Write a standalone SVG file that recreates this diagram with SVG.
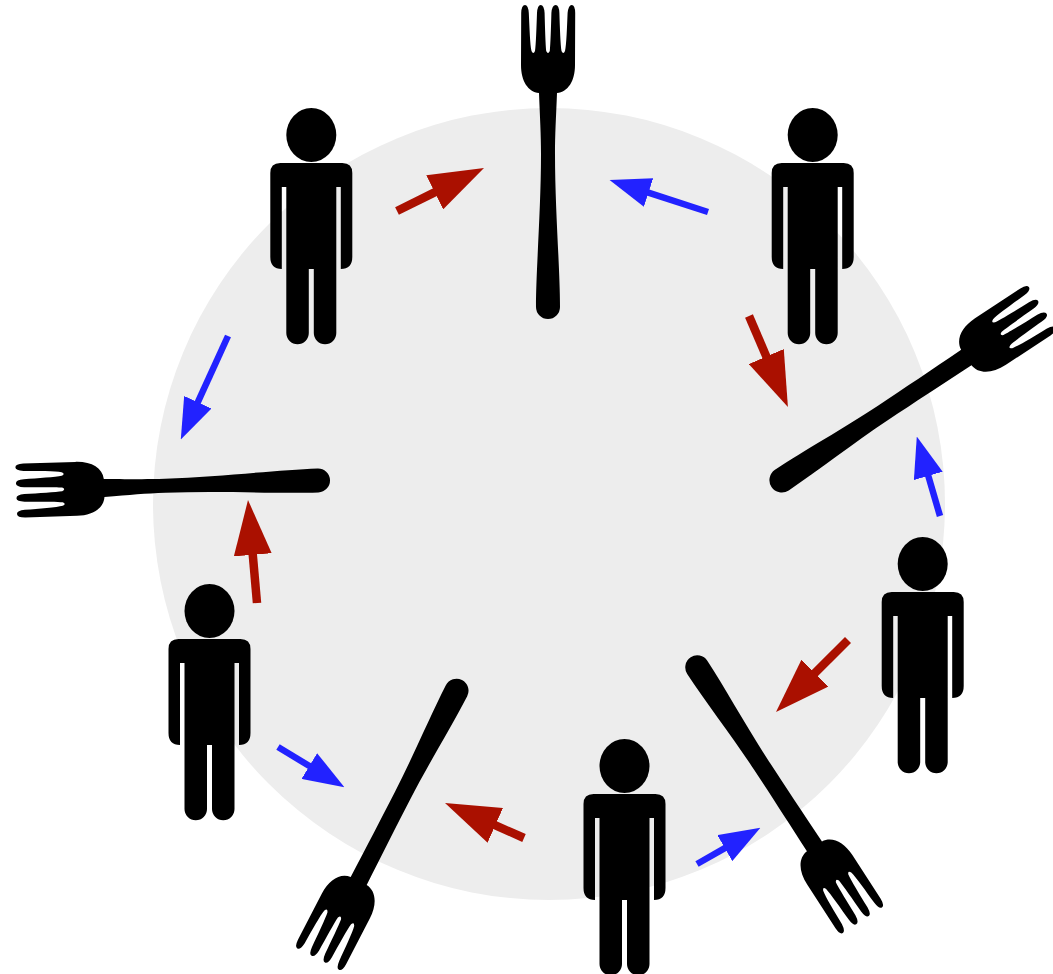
<svg xmlns="http://www.w3.org/2000/svg" width="1053" height="974" viewBox="0 0 1053 974">
<style>
.plate{fill:#ededed}
.red{stroke:#aa1000;stroke-width:8.5;fill:none}
.blue{stroke:#2222ff;stroke-width:6.5;fill:none}
.ink{fill:#000}
</style>
<defs>
<marker id="headRed" markerUnits="userSpaceOnUse" markerWidth="55" markerHeight="38" refX="1" refY="19" orient="auto" viewBox="0 0 55 38"><path d="M0,0L55,19L0,38Z" fill="#aa1000"/></marker>
<marker id="headBlue" markerUnits="userSpaceOnUse" markerWidth="41" markerHeight="30" refX="1" refY="15" orient="auto" viewBox="0 0 41 30"><path d="M0,0L41,15L0,30Z" fill="#2222ff"/></marker>
<path id="forkThin" class="ink" d="M-9,-226C-20,-227 -27,-238 -27,-254L-26.8,-306Q-26.5,-314 -23,-314Q-19.8,-314 -19.2,-306C-18.5,-292 -18,-274 -16.5,-268Q-14.7,-264 -13,-268C-12,-274 -11.5,-292 -11,-306Q-10.5,-314 -7.3,-314Q-4,-314 -3.4,-306C-3,-292 -2.5,-274 -1.8,-268Q0,-264 1.8,-268C2.5,-274 3,-292 3.4,-306Q4,-314 7.7,-314Q11,-314 11.4,-306C11.8,-292 12.5,-274 13.5,-268Q15.3,-264 17,-268C18.5,-274 19,-292 19.6,-306Q20.5,-314 23.7,-314Q27,-314 27.2,-306L27,-254C27,-238 20,-227 9,-226C8,-200 7,-185 7,-165C7,-110 12,-50 12,-12A12,12 0 0 1 -12,-12C-12,-50 -7,-110 -7,-165C-7,-185 -8,-200 -9,-226Z"/>
<path id="forkStout" class="ink" d="M-9,-226C-20,-227 -27,-238 -27,-254L-26.8,-306Q-26.5,-314 -23,-314Q-19.8,-314 -19.2,-306C-18.5,-292 -18,-274 -16.5,-268Q-14.7,-264 -13,-268C-12,-274 -11.5,-292 -11,-306Q-10.5,-314 -7.3,-314Q-4,-314 -3.4,-306C-3,-292 -2.5,-274 -1.8,-268Q0,-264 1.8,-268C2.5,-274 3,-292 3.4,-306Q4,-314 7.7,-314Q11,-314 11.4,-306C11.8,-292 12.5,-274 13.5,-268Q15.3,-264 17,-268C18.5,-274 19,-292 19.6,-306Q20.5,-314 23.7,-314Q27,-314 27.2,-306L27,-254C27,-238 20,-227 9,-226C8.6,-190 8.5,-160 8.5,-130C8.5,-90 12,-45 12,-12A12,12 0 0 1 -12,-12C-12,-45 -8.5,-90 -8.5,-130C-8.5,-160 -8.6,-190 -9,-226Z"/>
<g id="person" class="ink">
<ellipse cx="0" cy="0" rx="25" ry="27"/>
<path d="M-41,38Q-41,28 -31,28L31,28Q41,28 41,38L41,122Q41,134 29.5,134L29.5,52L25,52L25,198A11.25,11.25 0 0 1 2.5,198L2.5,134L-2.5,134L-2.5,198A11.25,11.25 0 0 1 -25,198L-25,52L-29.5,52L-29.5,134Q-41,134 -41,122Z"/>
</g>
</defs>
<circle class="plate" cx="549" cy="504" r="396"/>
<g id="connectors">
<line class="red" x1="397" y1="211" x2="435.6" y2="191.9" marker-end="url(#headRed)"/>
<line class="red" x1="749" y1="316" x2="766.7" y2="357.4" marker-end="url(#headRed)"/>
<line class="red" x1="848" y1="640" x2="814.2" y2="673.8" marker-end="url(#headRed)"/>
<line class="red" x1="524" y1="838" x2="494.4" y2="824.9" marker-end="url(#headRed)"/>
<line class="red" x1="257" y1="603" x2="252.7" y2="553.8" marker-end="url(#headRed)"/>
<line class="blue" x1="708" y1="212" x2="647.6" y2="192.3" marker-end="url(#headBlue)"/>
<line class="blue" x1="940" y1="516" x2="928" y2="474.9" marker-end="url(#headBlue)"/>
<line class="blue" x1="697" y1="864" x2="725.7" y2="847.6" marker-end="url(#headBlue)"/>
<line class="blue" x1="278" y1="747" x2="310.2" y2="766.5" marker-end="url(#headBlue)"/>
<line class="blue" x1="228" y1="336" x2="197.4" y2="403.1" marker-end="url(#headBlue)"/>
</g>
<g id="fork-top"><use href="#forkThin" transform="translate(548,319)"/></g>
<g id="fork-right"><use href="#forkStout" transform="translate(771.5,487) rotate(56.4) scale(1.035)"/></g>
<g id="fork-bottom-right"><use href="#forkStout" transform="translate(690.7,657.3) rotate(146.8)"/></g>
<g id="fork-bottom-left"><use href="#forkStout" transform="translate(462,680) rotate(207.2)"/></g>
<g id="fork-left"><use href="#forkThin" transform="translate(330,480) rotate(-92)"/></g>
<g id="person-top-left"><use href="#person" transform="translate(311.3,135)"/></g>
<g id="person-top-right"><use href="#person" transform="translate(812.7,135)"/></g>
<g id="person-right"><use href="#person" transform="translate(922.7,564)"/></g>
<g id="person-bottom"><use href="#person" transform="translate(624.5,766)"/></g>
<g id="person-left"><use href="#person" transform="translate(209.5,611)"/></g>
</svg>
